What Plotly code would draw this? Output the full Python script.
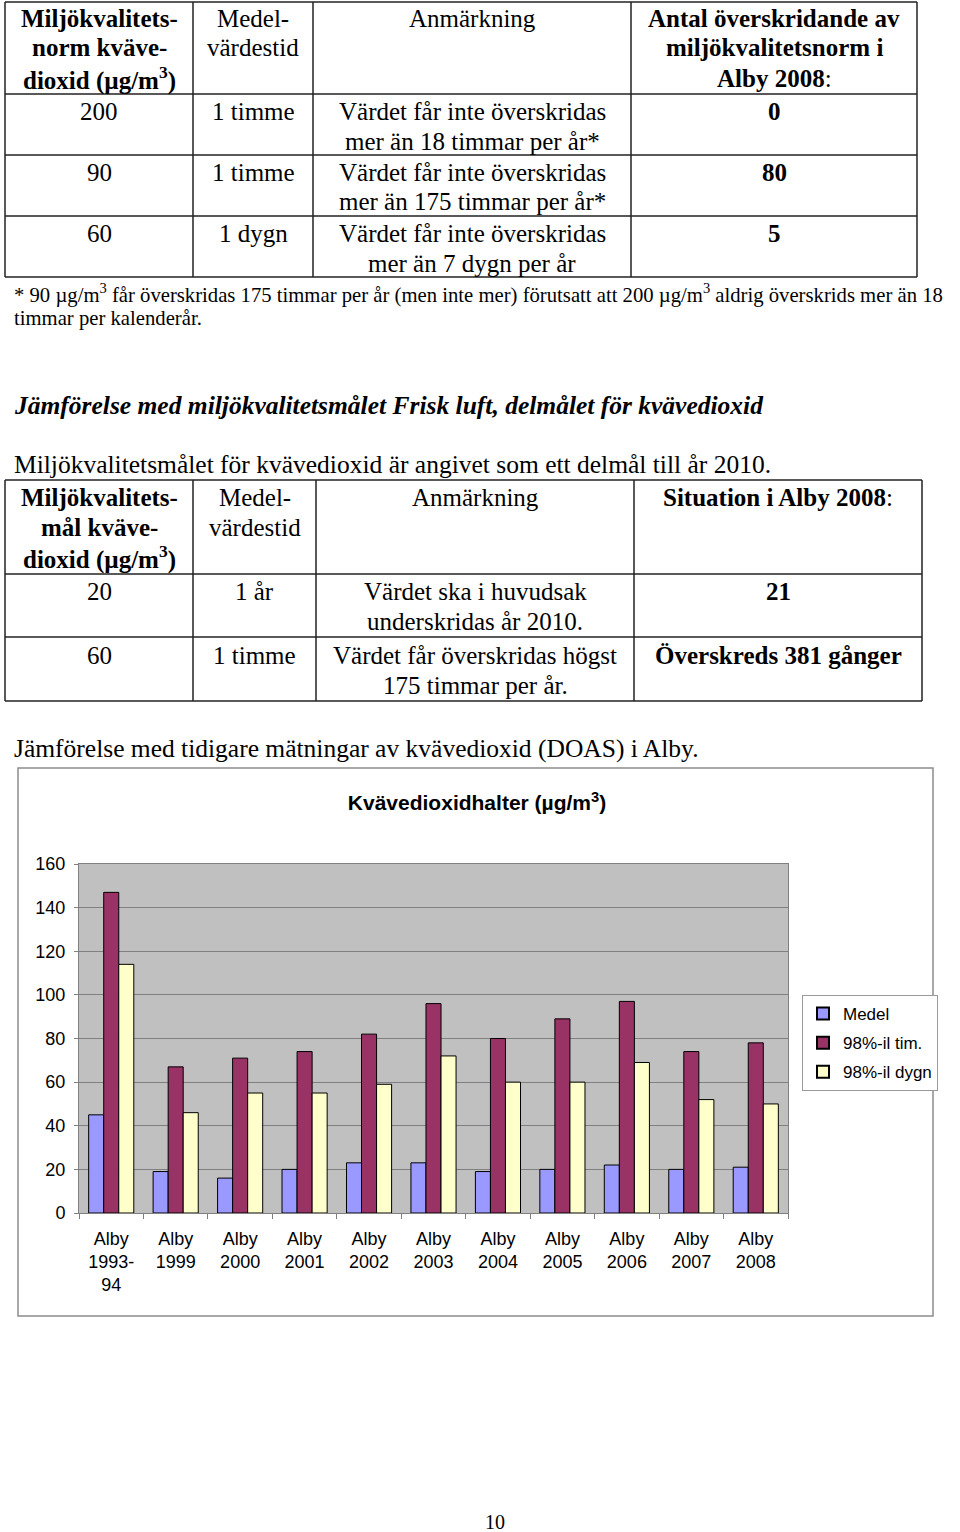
import plotly.graph_objects as go

# ---------------- data ----------------
categories = ["Alby<br>1993-<br>94", "Alby<br>1999", "Alby<br>2000", "Alby<br>2001", "Alby<br>2002",
              "Alby<br>2003", "Alby<br>2004", "Alby<br>2005", "Alby<br>2006", "Alby<br>2007", "Alby<br>2008"]
medel = [45, 19, 16, 20, 23, 23, 19, 20, 22, 20, 21]
tim98 = [147, 67, 71, 74, 82, 96, 80, 89, 97, 74, 78]
dygn98 = [114, 46, 55, 55, 59, 72, 60, 60, 69, 52, 50]
series_names = ["Medel", "98%-il tim.", "98%-il dygn"]
series_colors = ["#9999FF", "#993366", "#FFFFCC"]
y_ticks = [0, 20, 40, 60, 80, 100, 120, 140, 160]

chart_title = "<b>Kvävedioxidhalter (µg/m<sup>3</sup>)</b>"

# table 1 text
t1_header = [["<b>Miljökvalitets-</b>", "<b>norm kväve-</b>", "<b>dioxid (µg/m<sup>3</sup>)</b>"],
             ["Medel-", "värdestid"],
             ["Anmärkning"],
             ["<b>Antal överskridande av</b>", "<b>miljökvalitetsnorm i</b>", "<b>Alby 2008</b>:"]]
t1_rows = [
    [["200"], ["1 timme"], ["Värdet får inte överskridas", "mer än 18 timmar per år*"], ["<b>0</b>"]],
    [["90"], ["1 timme"], ["Värdet får inte överskridas", "mer än 175 timmar per år*"], ["<b>80</b>"]],
    [["60"], ["1 dygn"], ["Värdet får inte överskridas", "mer än 7 dygn per år"], ["<b>5</b>"]],
]
footnote = ["* 90 µg/m<sup>3</sup> får överskridas 175 timmar per år (men inte mer) förutsatt att 200 µg/m<sup>3</sup> aldrig överskrids mer än 18",
            "timmar per kalenderår."]
heading = "<b><i>Jämförelse med miljökvalitetsmålet Frisk luft, delmålet för kvävedioxid</i></b>"
para1 = "Miljökvalitetsmålet för kvävedioxid är angivet som ett delmål till år 2010."
t2_header = [["<b>Miljökvalitets-</b>", "<b>mål kväve-</b>", "<b>dioxid (µg/m<sup>3</sup>)</b>"],
             ["Medel-", "värdestid"],
             ["Anmärkning"],
             ["<b>Situation i Alby 2008</b>:"]]
t2_rows = [
    [["20"], ["1 år"], ["Värdet ska i huvudsak", "underskridas år 2010."], ["<b>21</b>"]],
    [["60"], ["1 timme"], ["Värdet får överskridas högst", "175 timmar per år."], ["<b>Överskreds 381 gånger</b>"]],
]
para2 = "Jämförelse med tidigare mätningar av kvävedioxid (DOAS) i Alby."
page_no = "10"

# ---------------- layout geometry (pixels) ----------------
W, H = 960, 1532
PL, PR, PT, PB = 79, 788, 864, 1213


def px(x):
    return (x - PL) / (PR - PL)


def py(y):
    return (PB - y) / (PB - PT)


SERIF = "Liberation Serif"
SANS = "Liberation Sans"

fig = go.Figure()
for name, vals, col in zip(series_names, [medel, tim98, dygn98], series_colors):
    fig.add_trace(go.Bar(x=categories, y=vals, name=name, legendgroup=name,
                         marker=dict(color=col, line=dict(color="black", width=1))))

annotations = []
shapes = []


def text(x, y, s, size=25, anchor="center", font=SERIF):
    annotations.append(dict(x=px(x), y=py(y), xref="paper", yref="paper", text=s,
                            showarrow=False, xanchor=anchor, yanchor="middle",
                            font=dict(family=font, size=size, color="black")))


def line(x0, y0, x1, y1, color="#222", width=1.5):
    shapes.append(dict(type="line", xref="paper", yref="paper", x0=px(x0), y0=py(y0),
                       x1=px(x1), y1=py(y1), line=dict(color=color, width=width)))


def table(cols, rows_y, header, rows, header_y0, row_y0s, lh=30):
    for c in cols:
        line(c, rows_y[0], c, rows_y[-1])
    for r in rows_y:
        line(cols[0], r, cols[-1], r)
    centers = [(cols[i] + cols[i + 1]) / 2 for i in range(len(cols) - 1)]
    for ci, cell in enumerate(header):
        for li, s in enumerate(cell):
            text(centers[ci], header_y0 + li * lh, s)
    for ri, row in enumerate(rows):
        for ci, cell in enumerate(row):
            for li, s in enumerate(cell):
                text(centers[ci], row_y0s[ri] + li * lh, s)


# table 1
table([5, 193, 313, 631, 917], [2, 94, 155, 216, 277], t1_header, t1_rows, 18, [111, 172, 233])
text(12, 293, footnote[0], size=20.7, anchor="left")
text(12, 318, footnote[1], size=20.7, anchor="left")
text(12, 405, heading, size=25.5, anchor="left")
text(12, 465, para1, size=25.5, anchor="left")
# table 2
table([5, 193, 316, 634, 922], [480, 574, 637, 701], t2_header, t2_rows, 497, [591, 655])
text(12, 748, para2, size=25.5, anchor="left")
text(495, 1522, page_no, size=20)

# chart border
shapes.append(dict(type="rect", xref="paper", yref="paper", x0=px(18), y0=py(1316),
                   x1=px(933), y1=py(768), line=dict(color="#8c8c8c", width=1.5)))

fig.update_layout(
    width=W, height=H,
    margin=dict(l=PL, r=W - PR, t=PT, b=H - PB, autoexpand=False),
    paper_bgcolor="white", plot_bgcolor="#C0C0C0",
    barmode="group", bargap=0.3, bargroupgap=0,
    title=dict(text=chart_title, x=477 / W, xref="container", xanchor="center",
               y=1 - 803 / H, yref="container", yanchor="middle",
               font=dict(family=SANS, size=21, color="black")),
    showlegend=True,
    legend=dict(x=px(802), y=py(995), xanchor="left", yanchor="top",
                bgcolor="white", bordercolor="#9a9a9a", borderwidth=1,
                font=dict(family=SANS, size=17, color="black"),
                tracegroupgap=4, itemwidth=30, itemsizing="constant"),
    annotations=annotations, shapes=shapes,
    font=dict(family=SANS, color="black"),
)
fig.update_xaxes(showline=True, linecolor="#808080", mirror=True, ticks="outside",
                 tickson="boundaries", ticklen=5, tickcolor="#808080", ticklabelstandoff=9,
                 tickfont=dict(family=SANS, size=18, color="black"), showgrid=False)
fig.update_yaxes(range=[0, 160], tickvals=y_ticks, showline=True, linecolor="#808080", mirror=True,
                 ticks="outside", ticklen=4, tickcolor="#808080", gridcolor="#808080",
                 gridwidth=1, zeroline=False, ticklabelstandoff=5,
                 tickfont=dict(family=SANS, size=18, color="black"))

fig.write_html("out.html")
